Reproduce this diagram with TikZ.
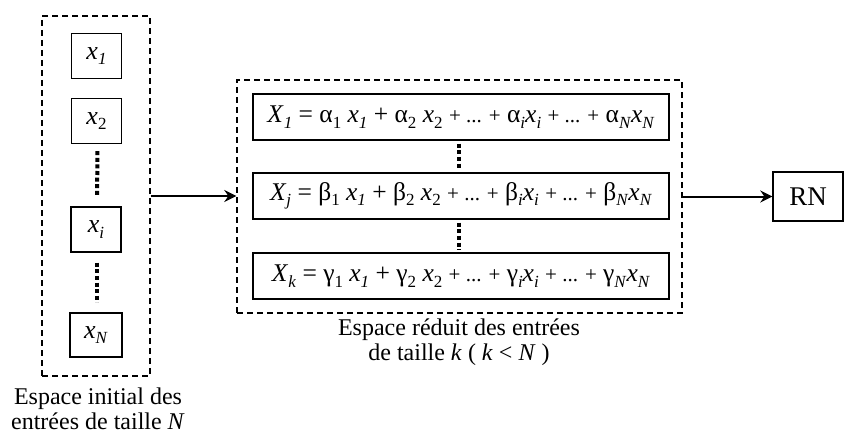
\documentclass[tikz,border=0pt]{standalone}
\usepackage{fontspec}
\setmainfont{Liberation Serif}
\usetikzlibrary{arrows.meta,positioning,calc}
\newcommand\V[1]{\textit{#1}}
\newcommand\sbs[1]{\raisebox{-0.22em}{\fontsize{17}{20}\selectfont #1}}
\newcommand\sm[1]{{\fontsize{21}{24}\selectfont #1}}
\begin{document}
\begin{tikzpicture}[x=1pt,y=-1pt,
  txt/.style={font=\fontsize{24}{25}\selectfont},
  smallbox/.style={draw,line width=1.4pt,minimum width=50pt,minimum height=45pt,inner sep=0pt,font=\fontsize{26}{28}\selectfont},
  eqbox/.style={draw,line width=1.4pt,minimum width=416pt,minimum height=46pt,inner sep=0pt,font=\fontsize{25.5}{28}\selectfont},
  groupbox/.style={draw,line width=1.4pt,dash pattern=on 6pt off 4pt,inner sep=0pt},
  dotline/.style={line width=4pt,dash pattern=on 4pt off 2.6pt},
  conn/.style={line width=2pt,-{Stealth[length=12pt,width=12pt,inset=4pt]}},
  caption/.style={txt,inner sep=0pt,anchor=base}
]
\useasboundingbox (0,0) rectangle (845,433);
% left group
\node[groupbox,minimum width=108pt,minimum height=360pt] (L) at (96,196) {};
\node[smallbox] (x1) at (96.5,56) {\V{x}\sbs{\V{1}}};
\node[smallbox] (x2) at (96.5,121) {\V{x}\sbs{2}};
\node[smallbox] (xi) at (96,229.5) {\V{x}\sbs{\V{i}}};
\node[smallbox,minimum width=52pt,minimum height=44pt] (xN) at (96,335) {\V{x}\sbs{\V{N}}};
\draw[dotline,shorten <=7pt,shorten >=11pt] ($(x2.south)+(1,0)$) -- ($(xi.north)+(1,0)$);
\draw[dotline,shorten <=10pt,shorten >=10pt] ($(xi.south)+(1,0)$) -- ($(xN.north)+(1,0)$);
\node[caption] (capLa) at (98,404) {Espace initial des};
\node[caption] (capLb) at (98,429) {entrées de taille \V{N}};
% middle group
\node[groupbox,minimum width=445pt,minimum height=233pt] (M) at (459.5,196.5) {};
\node[eqbox] (e1) at (461,117) {\V{X}\sbs{\V{1}} = α\sbs{1} \V{x}\sbs{\V{1}} + α\sbs{2} \V{x}\sbs{2} \sm{+ ... +} α\sbs{\V{i}}\V{x}\sbs{\V{i}} \sm{+ ... +} α\sbs{\V{N}}\V{x}\sbs{\V{N}}};
\node[eqbox] (ej) at (461,196) {\V{X}\sbs{\V{j}} = β\sbs{1} \V{x}\sbs{\V{1}} + β\sbs{2} \V{x}\sbs{2} \sm{+ ... +} β\sbs{\V{i}}\V{x}\sbs{\V{i}} \sm{+ ... +} β\sbs{\V{N}}\V{x}\sbs{\V{N}}};
\node[eqbox] (ek) at (461,276) {\V{X}\sbs{\V{k}} = γ\sbs{1} \V{x}\sbs{\V{1}} + γ\sbs{2} \V{x}\sbs{2} \sm{+ ... +} γ\sbs{\V{i}}\V{x}\sbs{\V{i}} \sm{+ ... +} γ\sbs{\V{N}}\V{x}\sbs{\V{N}}};
\draw[dotline,shorten <=3pt,shorten >=3pt] ($(e1.south)+(-2,0)$) -- ($(ej.north)+(-2,0)$);
\draw[dotline,shorten <=3pt,shorten >=2pt] ($(ej.south)+(-2,0)$) -- ($(ek.north)+(-2,0)$);
\node[caption] (capMa) at (459,335) {Espace réduit des entrées};
\node[caption] (capMb) at (459,360) {de taille \V{k} ( \V{k} < \V{N} )};
% RN
\node[draw,line width=1.4pt,minimum width=70pt,minimum height=49pt,inner sep=0pt,font=\fontsize{27}{30}\selectfont] (rn) at (808,196.5) {RN};
% connectors
\draw[conn] (L.east) -- (L.east -| M.west);
\draw[conn] (M.east |- rn.west) -- (rn.west);
\end{tikzpicture}
\end{document}
